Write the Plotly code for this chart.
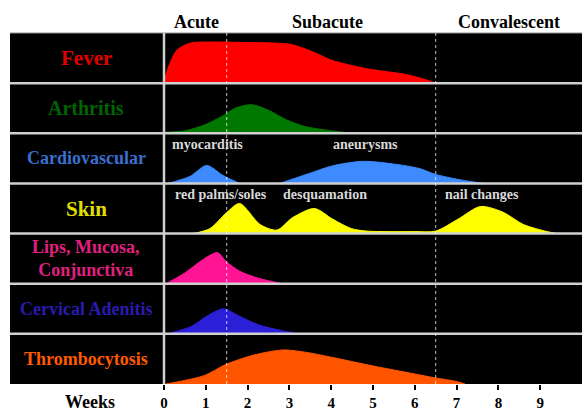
import plotly.graph_objects as go
from plotly.subplots import make_subplots

# ---------------- data ----------------
rows = ["Fever", "Arthritis", "Cardiovascular", "Skin",
        "Lips, Mucosa,<br>Conjunctiva", "Cervical Adenitis", "Thrombocytosis"]
fill_colors = ["#ff0000", "#007800", "#3d8bff", "#ffff00", "#ff1493", "#2b1fd8", "#ff5500"]
label_colors = ["#e00000", "#006400", "#3a6fd0", "#e0e000", "#e0207f", "#2a1ab0", "#ff5a00"]
label_sizes = [21, 20, 18, 21, 18, 18, 18]

fever_x = [0, 0.1, 0.3, 0.5, 0.7, 1.2, 2.0, 2.6, 3.05, 3.6, 4.0, 4.5, 4.9, 5.8, 6.3, 6.5]
fever_y = [0, 0.31, 0.65, 0.76, 0.81, 0.82, 0.81, 0.80, 0.77, 0.61, 0.46, 0.35, 0.28, 0.17, 0.06, 0]

arth_x = [0, 0.5, 0.95, 1.37, 1.73, 2.1, 2.5, 2.95, 3.4, 4.0, 4.5]
arth_y = [0.02, 0.05, 0.16, 0.33, 0.51, 0.57, 0.46, 0.26, 0.13, 0.05, 0]

myo_x = [0.09, 0.62, 1.02, 1.41, 1.81]
myo_y = [0, 0.14, 0.36, 0.16, 0]
aneu_x = [2.77, 3.48, 4.03, 4.75, 5.47, 6.1, 6.5, 7.1, 7.65]
aneu_y = [0, 0.2, 0.35, 0.44, 0.39, 0.3, 0.18, 0.07, 0]

skin_x = [0.7, 1.1, 1.5, 1.81, 2.3, 2.7, 3.08, 3.6, 4.03, 4.48, 4.84, 6.0, 6.5, 7.04, 7.57, 8.1, 8.6, 9.16, 9.42]
skin_y = [0, 0.1, 0.42, 0.6, 0.18, 0.07, 0.32, 0.5, 0.29, 0.1, 0.05, 0.04, 0.05, 0.29, 0.54, 0.43, 0.18, 0.04, 0]

lips_x = [0.05, 0.49, 0.93, 1.28, 1.48, 1.81, 2.26, 2.83]
lips_y = [0, 0.21, 0.48, 0.62, 0.45, 0.25, 0.11, 0]

cerv_x = [0.09, 0.66, 1.02, 1.42, 1.81, 2.26, 2.79, 3.23]
cerv_y = [0, 0.15, 0.35, 0.5, 0.35, 0.18, 0.07, 0]

thromb_x = [0.04, 0.49, 0.97, 1.48, 1.99, 2.43, 2.88, 3.41, 4.03, 5.0, 6.0, 6.5, 7.0, 7.2]
thromb_y = [0, 0.07, 0.17, 0.39, 0.54, 0.63, 0.68, 0.63, 0.53, 0.36, 0.2, 0.12, 0.05, 0]

series = [
    [(fever_x, fever_y)],
    [(arth_x, arth_y)],
    [(myo_x, myo_y), (aneu_x, aneu_y)],
    [(skin_x, skin_y)],
    [(lips_x, lips_y)],
    [(cerv_x, cerv_y)],
    [(thromb_x, thromb_y)],
]

sub_labels = ["myocarditis", "aneurysms", "red palms/soles", "desquamation", "nail changes"]
sub_label_x = [1.03, 4.83, 1.37, 3.84, 7.6]
sub_label_row = [2, 2, 3, 3, 3]

phases = ["Acute", "Subacute", "Convalescent"]
phase_x = [0.77, 3.9, 8.25]
phase_bounds = [1.5, 6.5]

week_ticks = list(range(10))

# ---------------- figure ----------------
W, H = 582, 411
ML, MR, MT, MB = 164, 0, 33, 24
n = len(rows)
fig = make_subplots(rows=n, cols=1, shared_xaxes=True, vertical_spacing=0)

for i, parts in enumerate(series):
    for xs, ys in parts:
        fig.add_trace(go.Scatter(
            x=xs, y=ys, mode="lines", fill="tozeroy",
            line=dict(color=fill_colors[i], width=1, shape="spline", smoothing=0.8),
            fillcolor=fill_colors[i], hoverinfo="skip", showlegend=False),
            row=i + 1, col=1)
    fig.update_yaxes(range=[0, 1], visible=False, fixedrange=True, row=i + 1, col=1)

font_b = "Liberation Serif"
fig.update_xaxes(range=[0, 10], showgrid=False, zeroline=False, showline=False)
fig.update_xaxes(tickvals=week_ticks, ticks="outside", ticklen=5, tickwidth=2,
                 tickcolor="black",
                 tickfont=dict(family=font_b, size=15, color="black", weight="bold"),
                 row=n, col=1)

shapes = []
x_left = (10 - ML) / (W - ML - MR)
# label panel
shapes.append(dict(type="rect", xref="paper", yref="paper", x0=x_left, x1=0, y0=0, y1=1,
                   fillcolor="black", line=dict(width=0), layer="below"))
# row separators
for k in range(1, n):
    yk = k / n
    shapes.append(dict(type="line", xref="paper", yref="paper", x0=x_left, x1=1, y0=yk, y1=yk,
                       line=dict(color="#d0d0d0", width=2.5), layer="above"))
shapes.append(dict(type="line", xref="paper", yref="paper", x0=x_left, x1=1, y0=1, y1=1,
                   line=dict(color="#909090", width=1), layer="above"))
# vertical divider
shapes.append(dict(type="line", xref="paper", yref="paper", x0=0, x1=0, y0=0, y1=1,
                   line=dict(color="#d0d0d0", width=2.5), layer="above"))
# phase boundaries
for b in phase_bounds:
    shapes.append(dict(type="line", xref="x", yref="paper", x0=b, x1=b, y0=0, y1=1,
                       line=dict(color="rgba(255,255,255,0.75)", width=1, dash="dot"),
                       layer="above"))

ann = []
for i, lab in enumerate(rows):
    yc = 1 - (i + 0.5) / n
    ann.append(dict(text="<b>%s</b>" % lab, xref="paper", yref="paper",
                    x=(86 - ML) / (W - ML - MR), y=yc, showarrow=False,
                    xanchor="center", yanchor="middle",
                    font=dict(family=font_b, size=label_sizes[i], color=label_colors[i])))
for t, xv, r in zip(sub_labels, sub_label_x, sub_label_row):
    ytop = 1 - (r + 0.22) / n
    ann.append(dict(text="<b>%s</b>" % t, xref="x", yref="paper", x=xv, y=ytop,
                    showarrow=False, xanchor="center", yanchor="middle",
                    font=dict(family=font_b, size=14, color="#d8d8d8")))
for t, xv in zip(phases, phase_x):
    ann.append(dict(text="<b>%s</b>" % t, xref="x", yref="paper", x=xv, y=1,
                    yshift=11, showarrow=False, xanchor="center", yanchor="middle",
                    font=dict(family=font_b, size=18, color="black")))
ann.append(dict(text="<b>Weeks</b>", xref="paper", yref="paper",
                x=(90 - ML) / (W - ML - MR), y=0, yshift=-18, showarrow=False,
                xanchor="center", yanchor="middle",
                font=dict(family=font_b, size=18, color="black")))

fig.update_layout(width=W, height=H, margin=dict(l=ML, r=MR, t=MT, b=MB),
                  paper_bgcolor="white", plot_bgcolor="black",
                  shapes=shapes, annotations=ann, showlegend=False)

fig.write_html("out.html", config={"displayModeBar": False},
               post_script="document.body.style.margin='0px';")
